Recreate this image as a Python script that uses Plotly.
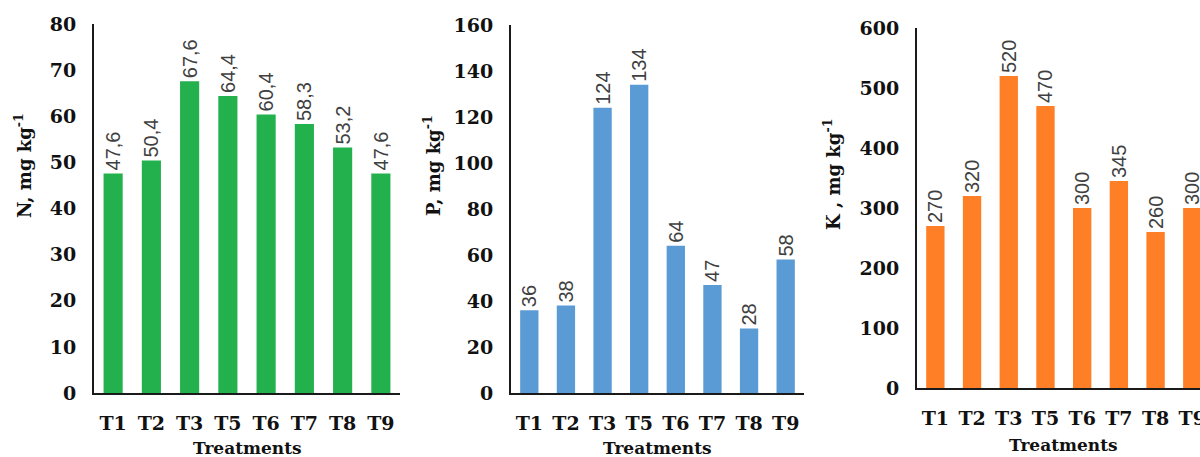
import plotly.graph_objects as go

categories = ["T1", "T2", "T3", "T5", "T6", "T7", "T8", "T9"]
n_values = [47.6, 50.4, 67.6, 64.4, 60.4, 58.3, 53.2, 47.6]
p_values = [36, 38, 124, 134, 64, 47, 28, 58]
k_values = [270, 320, 520, 470, 300, 345, 260, 300]

n_labels = [f"{v:.1f}".replace(".", ",") for v in n_values]
p_labels = [str(v) for v in p_values]
k_labels = [str(v) for v in k_values]

W = 1200.0
H = 457.0

def px(x):
    return x / W

def py(y):
    return (H - y) / H

def ydom(top, bottom):
    return [py(bottom), py(top)]

panels = [
    dict(vals=n_values, labels=n_labels, color="#22B14C", xd=[px(94), px(400)], yd=ydom(24, 393),
         yrange=[0, 80], dtick=10, xr=[-0.5, 7.5], title="N, mg kg<sup>-1</sup>", tx=23, ty=166,
         trx=247, tryy=448),
    dict(vals=p_values, labels=p_labels, color="#5B9BD5", xd=[px(511), px(804)], yd=ydom(25, 393),
         yrange=[0, 160], dtick=20, xr=[-0.5, 7.5], title="P, mg kg<sup>-1</sup>", tx=432, ty=166,
         trx=657, tryy=448),
    dict(vals=k_values, labels=k_labels, color="#FF7F27", xd=[px(917), 1.0], yd=ydom(28, 388),
         yrange=[0, 600], dtick=100, xr=[-0.5, 7.21], title="K , mg kg<sup>-1</sup>", tx=832, ty=175,
         trx=1063, tryy=445),
]

fig = go.Figure()
serif = "DejaVu Serif"
annotations = []
for i, p in enumerate(panels, start=1):
    xa = "x" if i == 1 else f"x{i}"
    ya = "y" if i == 1 else f"y{i}"
    fig.add_trace(go.Bar(
        x=categories, y=p["vals"], text=p["labels"], textposition="outside",
        textangle=-90, cliponaxis=False, constraintext="none",
        textfont=dict(family="Liberation Sans", size=20, color="#404040"),
        marker=dict(color=p["color"], line=dict(width=0)),
        xaxis=xa, yaxis=ya, showlegend=False, hoverinfo="skip",
    ))
    axkey = "xaxis" if i == 1 else f"xaxis{i}"
    aykey = "yaxis" if i == 1 else f"yaxis{i}"
    fig.update_layout({
        axkey: dict(domain=p["xd"], anchor=ya, range=p["xr"], showline=True, linecolor="#1a1a1a",
                    linewidth=2, ticks="", showgrid=False, zeroline=False, automargin=False,
                    tickfont=dict(family=serif, size=19, color="#111111", weight="bold"),
                    ticklabelstandoff=12),
        aykey: dict(domain=p["yd"], anchor=xa, range=p["yrange"], dtick=p["dtick"], showline=True,
                    linecolor="#1a1a1a", linewidth=2, ticks="", showgrid=False, zeroline=False,
                    automargin=False,
                    tickfont=dict(family=serif, size=19, color="#111111", weight="bold"),
                    ticklabelstandoff=12),
    })
    annotations.append(dict(text=f"<b>{p['title']}</b>", x=px(p["tx"]), y=py(p["ty"]),
                            xref="paper", yref="paper", showarrow=False, textangle=-90,
                            xanchor="center", yanchor="middle",
                            font=dict(family=serif, size=18, color="#111111")))
    annotations.append(dict(text="<b>Treatments</b>", x=px(p["trx"]), y=py(p["tryy"]),
                            xref="paper", yref="paper", showarrow=False,
                            xanchor="center", yanchor="middle",
                            font=dict(family=serif, size=17, color="#111111")))

fig.update_layout(
    width=W, height=H, margin=dict(l=0, r=0, t=0, b=0, autoexpand=False),
    paper_bgcolor="white", plot_bgcolor="white", bargap=0.5,
    annotations=annotations,
)
fig.write_html(
    "out.html",
    config={"displayModeBar": False, "staticPlot": True},
    post_script="document.body.style.margin='0';document.body.style.overflow='hidden';",
)
